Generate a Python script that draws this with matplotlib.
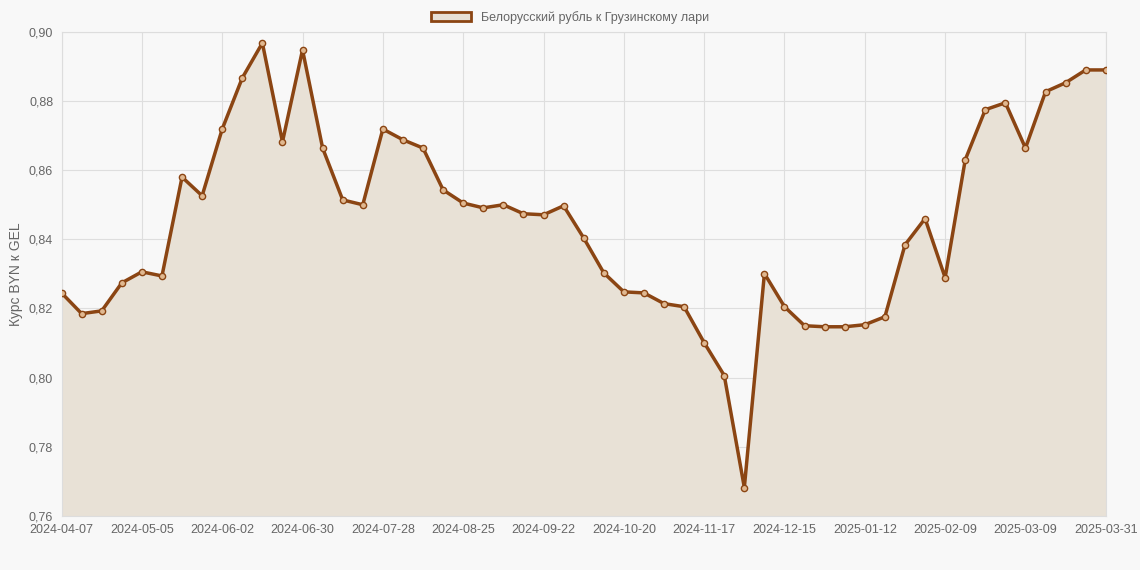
import matplotlib

matplotlib.use("Agg")
import matplotlib.pyplot as plt
import pandas as pd
from matplotlib.patches import Patch

plt.rcParams["font.family"] = ["Liberation Sans", "DejaVu Sans"]

# weekly dates, last point is 2025-03-31
dates = list(pd.date_range("2024-04-07", periods=52, freq="7D").strftime("%Y-%m-%d")) + ["2025-03-31"]
values = [
    0.8245, 0.8185, 0.8193, 0.8274, 0.8306, 0.8294, 0.8580, 0.8526, 0.8719, 0.8867,
    0.8968, 0.8682, 0.8948, 0.8664, 0.8514, 0.8500, 0.8719, 0.8688, 0.8664, 0.8543,
    0.8505, 0.8491, 0.8500, 0.8474, 0.8471, 0.8497, 0.8404, 0.8303, 0.8248, 0.8245,
    0.8214, 0.8205, 0.8101, 0.8006, 0.7682, 0.8301, 0.8205, 0.8150, 0.8147, 0.8147,
    0.8153, 0.8176, 0.8384, 0.8460, 0.8289, 0.8630, 0.8775, 0.8795, 0.8664, 0.8827,
    0.8853, 0.8890, 0.8890,
]
label = "Белорусский рубль к Грузинскому лари"

BG = "#f8f8f8"
LINE = "#8b4513"

fig, ax = plt.subplots(figsize=(11.4, 5.7), dpi=100)
fig.patch.set_facecolor(BG)
ax.set_facecolor(BG)

x = range(len(values))
ax.fill_between(x, values, 0.76, color="#e8e1d6", zorder=1)
ax.plot(x, values, color=LINE, lw=2.5, zorder=2)
ax.plot(x, values, "o", ms=4.5, mfc="#e0b890", mec=LINE, mew=1, zorder=3)

ax.set_xlim(0, len(values) - 1)
ax.set_ylim(0.76, 0.90)
ticks = list(range(0, len(values) - 1, 4)) + [len(values) - 1]
ax.set_xticks(ticks)
ax.set_xticklabels([dates[i] for i in ticks])
ax.set_yticks([0.76 + 0.02 * i for i in range(8)])
ax.set_yticklabels([f"{0.76 + 0.02 * i:.2f}".replace(".", ",") for i in range(8)])
ax.tick_params(colors="#666666", labelsize=9, length=0, pad=6)
ax.grid(color="#dedede", lw=0.8)
ax.set_axisbelow(True)
for s in ax.spines.values():
    s.set_color("#dddddd")
ax.set_ylabel("Курс BYN к GEL", color="#666666", fontsize=10)

fig.legend(
    handles=[Patch(facecolor="#e8e1d6", edgecolor=LINE, lw=2, label=label)],
    loc="upper center", frameon=False, fontsize=9, labelcolor="#666666",
    bbox_to_anchor=(0.5, 1.0), handlelength=3.2,
)

fig.subplots_adjust(left=0.054, right=0.97, top=0.944, bottom=0.095)
fig.savefig("out.png", dpi=100, facecolor=BG)
